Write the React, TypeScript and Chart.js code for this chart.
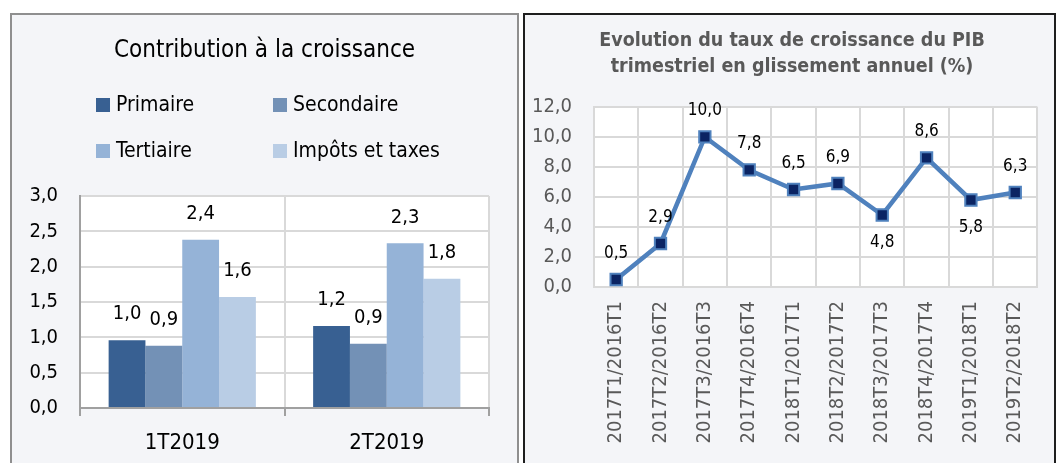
import React, { useEffect, useRef } from 'react';
import { Chart, registerables } from 'chart.js';

Chart.register(...registerables);

// ---------- Data: left chart ----------
const contribCategories = ['1T2019', '2T2019'];
const contribSeriesNames = ['Primaire', 'Secondaire', 'Tertiaire', 'Impôts et taxes'];
const primaireValues = [0.96, 1.16];
const secondaireValues = [0.88, 0.91];
const tertiaireValues = [2.38, 2.33];
const impotsValues = [1.57, 1.83];
const contribYMin = 0;
const contribYMax = 3;
const contribYStep = 0.5;

// ---------- Data: right chart ----------
const pibCategories = [
  '2017T1/2016T1',
  '2017T2/2016T2',
  '2017T3/2016T3',
  '2017T4/2016T4',
  '2018T1/2017T1',
  '2018T2/2017T2',
  '2018T3/2017T3',
  '2018T4/2017T4',
  '2019T1/2018T1',
  '2019T2/2018T2',
];
const pibValues = [0.5, 2.9, 10.0, 7.8, 6.5, 6.9, 4.8, 8.6, 5.8, 6.3];
const pibYMin = 0;
const pibYMax = 12;
const pibYStep = 2;
const pibLabelsBelow = ['2018T3/2017T3', '2019T1/2018T1'];

// ---------- Styles ----------
const FONT = '"DejaVu Sans Condensed", "DejaVu Sans", sans-serif';
const contribColors = ['#386092', '#7391b6', '#95b3d7', '#b9cde5'];
const fmt = (v: number) => v.toFixed(1).replace('.', ',');

const plotBg = {
  id: 'plotBg',
  beforeDraw(chart: any) {
    const { ctx, chartArea } = chart;
    ctx.save();
    ctx.fillStyle = '#ffffff';
    ctx.fillRect(chartArea.left, chartArea.top, chartArea.right - chartArea.left, chartArea.bottom - chartArea.top);
    ctx.restore();
  },
};

const gridLegend = {
  id: 'gridLegend',
  afterDraw(chart: any) {
    const { ctx } = chart;
    const colX = [84, 261];
    const rowY = [90, 136];
    ctx.save();
    ctx.font = `21px ${FONT}`;
    ctx.textBaseline = 'middle';
    ctx.textAlign = 'left';
    chart.data.datasets.forEach((d: any, i: number) => {
      const x = colX[i % 2];
      const y = rowY[Math.floor(i / 2)];
      ctx.fillStyle = d.backgroundColor;
      ctx.fillRect(x, y - 7, 14, 14);
      ctx.fillStyle = '#000';
      ctx.fillText(d.label, x + 20, y + 1);
    });
    ctx.restore();
  },
};

const barLabels = {
  id: 'barLabels',
  afterDatasetsDraw(chart: any) {
    const { ctx } = chart;
    ctx.save();
    ctx.font = `20px ${FONT}`;
    ctx.fillStyle = '#000';
    ctx.textAlign = 'center';
    ctx.textBaseline = 'middle';
    chart.data.datasets.forEach((d: any, i: number) => {
      const meta = chart.getDatasetMeta(i);
      meta.data.forEach((el: any, j: number) => {
        ctx.fillText(fmt(d.data[j]), el.x, el.y - 26);
      });
    });
    ctx.restore();
  },
};

const pointLabels = {
  id: 'pointLabels',
  afterDatasetsDraw(chart: any) {
    const { ctx } = chart;
    ctx.save();
    ctx.font = `17px ${FONT}`;
    ctx.fillStyle = '#000';
    ctx.textAlign = 'center';
    ctx.textBaseline = 'middle';
    const d = chart.data.datasets[0];
    const meta = chart.getDatasetMeta(0);
    meta.data.forEach((el: any, j: number) => {
      const below = pibLabelsBelow.includes(chart.data.labels[j]);
      ctx.fillText(fmt(d.data[j]), el.x, below ? el.y + 28 : el.y - 26);
    });
    ctx.restore();
  },
};

// invisible right-side spacer axis (keeps the title centred on the whole panel)
const spacerAxis = (w: number) => ({
  type: 'linear',
  position: 'right',
  display: true,
  afterFit: (s: any) => { s.width = w; },
  grid: { display: false, drawOnChartArea: false, drawTicks: false },
  border: { display: false },
  ticks: { display: false },
});

function ContribChart() {
  const ref = useRef<HTMLCanvasElement>(null);
  useEffect(() => {
    const seriesValues = [primaireValues, secondaireValues, tertiaireValues, impotsValues];
    const chart = new Chart(ref.current as HTMLCanvasElement, {
      type: 'bar',
      data: {
        labels: contribCategories,
        datasets: contribSeriesNames.map((name, i) => ({
          label: name,
          data: seriesValues[i],
          backgroundColor: contribColors[i],
          categoryPercentage: 0.72,
          barPercentage: 1,
        })),
      },
      options: {
        responsive: false,
        animation: false,
        devicePixelRatio: 1,
        layout: { padding: { left: 0, right: 0, top: 0, bottom: 0 } },
        plugins: {
          legend: { display: false },
          tooltip: { enabled: false },
          title: {
            display: true,
            text: 'Contribution à la croissance',
            color: '#000',
            font: { family: FONT, size: 24, weight: 'normal', lineHeight: 1.2 },
            padding: { top: 21.6, bottom: 130.6 },
          },
        },
        scales: {
          x: {
            afterFit: (s: any) => { s.height = 55; },
            grid: { color: '#d9d9d9', lineWidth: 2, offset: true, tickColor: '#a0a0a0', tickLength: 8, drawTicks: true },
            border: { color: '#a0a0a0', width: 2 },
            ticks: { color: '#000', font: { family: FONT, size: 22 }, padding: 14 },
          },
          y: {
            min: contribYMin,
            max: contribYMax,
            afterFit: (s: any) => { s.width = 68; },
            grid: { color: '#d9d9d9', lineWidth: 2, drawTicks: false },
            border: { color: '#a0a0a0', width: 2 },
            ticks: {
              stepSize: contribYStep,
              color: '#000',
              font: { family: FONT, size: 20 },
              padding: 22,
              callback: (v: any) => fmt(Number(v)),
            },
          },
          spacer: spacerAxis(28),
        },
      },
      plugins: [plotBg, gridLegend, barLabels],
    } as any);
    return () => chart.destroy();
  }, []);
  return <canvas ref={ref} width={505} height={448} style={{ position: 'absolute', left: 0, top: 0 }} />;
}

function PibChart() {
  const ref = useRef<HTMLCanvasElement>(null);
  useEffect(() => {
    const chart = new Chart(ref.current as HTMLCanvasElement, {
      type: 'line',
      data: {
        labels: pibCategories,
        datasets: [
          {
            label: 'PIB',
            data: pibValues,
            borderColor: '#4f81bd',
            borderWidth: 4.5,
            tension: 0,
            pointStyle: 'rect',
            pointRadius: 8,
            pointBackgroundColor: '#0b2463',
            pointBorderColor: '#4f81bd',
            pointBorderWidth: 2,
          },
        ],
      },
      options: {
        responsive: false,
        animation: false,
        devicePixelRatio: 1,
        layout: { padding: { left: 5, right: 0, top: 0, bottom: 0 } },
        plugins: {
          legend: { display: false },
          tooltip: { enabled: false },
          title: {
            display: true,
            text: ['Evolution du taux de croissance du PIB', 'trimestriel en glissement annuel (%)'],
            color: '#595959',
            font: { family: FONT, size: 19.5, weight: 'bold', lineHeight: 1.35 },
            padding: { top: 12.5, bottom: 26.8 },
          },
        },
        scales: {
          x: {
            offset: true,
            afterFit: (s: any) => { s.height = 176; },
            grid: { color: '#d9d9d9', lineWidth: 2, offset: true, drawTicks: false },
            border: { color: '#d9d9d9', width: 2 },
            ticks: {
              color: '#595959',
              font: { family: FONT, size: 20 },
              minRotation: 90,
              maxRotation: 90,
              autoSkip: false,
              padding: 14,
            },
          },
          y: {
            min: pibYMin,
            max: pibYMax,
            afterFit: (s: any) => { s.width = 64; },
            grid: { color: '#d9d9d9', lineWidth: 2, drawTicks: false },
            border: { color: '#d9d9d9', width: 2 },
            ticks: {
              stepSize: pibYStep,
              color: '#595959',
              font: { family: FONT, size: 20 },
              padding: 22,
              callback: (v: any) => fmt(Number(v)),
            },
          },
          spacer: spacerAxis(15),
        },
      },
      plugins: [plotBg, pointLabels],
    } as any);
    return () => chart.destroy();
  }, []);
  return <canvas ref={ref} width={529} height={448} style={{ position: 'absolute', left: 0, top: 0 }} />;
}

export default function App() {
  return (
    <div style={{ position: 'absolute', left: 0, top: 0, width: 1060, height: 463, background: '#ffffff', overflow: 'hidden' }}>
      <div style={{ position: 'absolute', left: 10, top: 13, width: 505, height: 460, border: '2px solid #8f8f8f', background: '#f4f5f8' }}>
        <ContribChart />
      </div>
      <div style={{ position: 'absolute', left: 523, top: 13, width: 529, height: 460, border: '2px solid #1e1e1e', background: '#f4f5f8' }}>
        <PibChart />
      </div>
    </div>
  );
}
